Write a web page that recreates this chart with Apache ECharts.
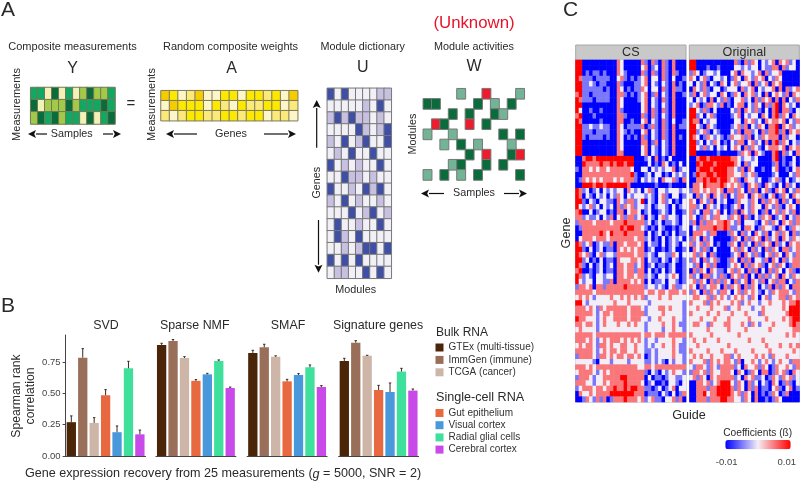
<!DOCTYPE html>
<html><head><meta charset="utf-8">
<style>html,body{margin:0;padding:0;background:#fff}#c{width:800px;height:481px}</style>
<script src="https://cdn.jsdelivr.net/npm/echarts@6/dist/echarts.min.js"></script>
</head><body><div id="c"></div>
<script>
const methods = ['SVD','Sparse NMF','SMAF','Signature genes'];
const bulkTypes = ['GTEx (multi-tissue)','ImmGen (immune)','TCGA (cancer)'];
const singleCellTypes = ['Gut epithelium','Visual cortex','Radial glial cells','Cerebral cortex'];
const svdValues = [0.27,0.785,0.264,0.485,0.19,0.70,0.173];
const svdUpper  = [0.32,0.857,0.306,0.53,0.24,0.756,0.207];
const nmfValues = [0.887,0.918,0.783,0.60,0.652,0.758,0.543];
const nmfUpper  = [0.90,0.93,0.793,0.61,0.66,0.767,0.55];
const smafValues = [0.823,0.868,0.793,0.596,0.647,0.708,0.551];
const smafUpper  = [0.844,0.892,0.80,0.612,0.658,0.727,0.562];
const sigValues = [0.759,0.905,0.80,0.527,0.511,0.674,0.522];
const sigUpper  = [0.78,0.921,0.804,0.564,0.583,0.70,0.535];
const yTicks = [0,0.25,0.5,0.75];

const matrixY = ['ggcdcgcldllg','dclllmlgggdg','ldgdlggcdcgd'];
const matrixA = ['3201300220221203','0322202102112201','1012211221220110'];
const matrixU = ['202000011','000001020','121211010','000021012','102012002','010200200','201010020','002110100','200102120','102010010','000201201','020010020','021020000','001012202','202020000','011002020'];
const matrixW = ['....l..r...l','dd....d.l.d.','...d.d..dl..','.rd..r.d....','l..l.....d.d','..l.d.l...l.','.....d.r..dr','...ld..d.d..','l.d.l.d....d'];

const csRows = [
'44000000000032000003103103103000',
'44000000000032000002301203103000',
'44010110100032100003103103103100',
'43111011110023101012302203102001',
'44112101100031000112302102103010',
'44111111010032010113202203103110',
'34110111110033101012301302103001',
'43111011110032000012302103103000',
'44000000000032000002302102103000',
'42001001000031000002303103103000',
'34000100000033100003103102103000',
'43000001000033001002302103102001',
'44112112110032011113013103103011',
'44111011110032101002302103103000',
'44101111010032010103102103103010',
'44000000000032000003301302103000',
'44000000000032000002302102103000',
'44000000000033000002302102103000',
'00344344444444444000120301020000',
'00433334334344344000020103201020',
'10332323323333332002202121223012',
'00333333333333334100120220102121',
'01323232333232333102121203223103',
'00444344344444430000000100010000',
'43120120212122032120231022122212',
'43021021202132021222121023102201',
'44102102211032133124021023120102',
'42123120212031323122120122102012',
'34002012201033023320120012102001',
'33121120213023133123021023122102',
'13333233332333433333120120112102',
'01333333333334344332101021001012',
'00333334324333433333020120102011',
'02333233323333333233120102012120',
'43123012113033233323021102012102',
'44102012011032323233012001012001',
'43231023122133333233121022113202',
'44120102011032223323021102102101',
'43102012012033233123012011012001',
'34001012011033233133020102012001',
'43121022122033233233121022123201',
'42122022113033332323020112022101',
'13323033133333433333122121023112',
'33333233333333333333233233233323',
'23232122223223232323122232232222',
'44212222222322232222212222222221',
'33323213233333323332122233232221',
'33333212332333323333122223222221',
'43322212322333323332212232223221',
'33233212322232232322122223223211',
'23222212222222222222122221223221',
'33333233333333333332332333233333',
'33323212323332323232122122223221',
'23233213323223322322121223223211',
'33333212323323322322112122223211',
'13333213323233233232012122223221',
'22222102221222212222112121021221',
'33323233333333333322332333333333',
'23333212323333333333102102123221',
'13332122333334433333020110122112',
'33322122323333433332012001022102',
'12333233233433434433110120123022',
'03223233334444444333011102102013',
'00132131301333433323123110223130'
];
const originalRows = [
'44000000000003103132021230323120',
'44000100100002212122021133031220',
'13201221200023032212303122300000',
'32023102212013203213230213200000',
'20213021032023122303123032300000',
'03213102201222031230212230303123',
'13023122032013203231203023213032',
'20212030213102231203132303030213',
'12301332130102330213203134032120',
'44213102000021303213102034033102',
'44120231000012302122032034132032',
'43302122000002203231203233230213',
'44210321000012313021320334032312',
'44123102100021303312031334130323',
'43201321210132231302132333031220',
'44120213201021330231203034132021',
'44213120212023203132102333230323',
'44000000100000132303210034031203',
'00344344444433212212000034010020',
'00434443444443203122000013010120',
'00344434444332130320010023001023',
'01433443444332231231000012000213',
'00334344344323103221200123102012',
'03324333343232310323103210203120',
'13323233230331320313023103230213',
'20312303213021332032310230132032',
'32032130212001322132031323031203',
'33120321201012302132203213102320',
'31203312302013032132013023132130',
'32013213322132303102132301230213',
'13031332334321302221023132032313',
'02133334334311203320132210320132',
'03332133000132031203213023132031',
'13203120000013203132303123032132',
'31231320100132031203132303120323',
'03213102000023132031203132033123',
'23132031000012303213102313203213',
'13203123100132031302213032031233',
'21302313000123203132310231320133',
'03132032110231320313020313202310',
'31203312131032313020313123032132',
'23132031313203123032130231330213',
'32031233203132303132021303132033',
'13203132133202313232102132333213',
'23322313232123232132023122331323',
'32223132322232312322122322232334',
'22322232223122322212232222232444',
'32222322322232223222132222223444',
'22232223222322222322223222232344',
'23322132223322232132122232222343',
'22222322222322223222222322222233',
'32222232222222322222222222223232',
'23223222322222222322232222222222',
'22322222222322222222223222322323',
'32222322232223222232222322222232',
'23232232223312322223232132223222',
'32223132323321302232123212322133',
'21332132133331203223132013223213',
'13323132233320320132033013231032',
'23132032333331203231120132132312',
'00332312344421320312021032013102',
'00333133444431320313011023102301',
'00334233444432313203010132013000',
'00333133344332213203001013200000'
];

const barColors = ['#4a2508','#9a6f5a','#cdb5a8','#e8683f','#4a98dc','#3fe09c','#c84ae8'];
const dimText = '#2a2a2a', ff = '"Liberation Sans",Arial,sans-serif';
const typeNames = bulkTypes.concat(singleCellTypes);
const cols = [...Array(7).keys()];

const grids=[], xAxes=[], yAxes=[], series=[];
function range(n){return [...Array(n).keys()].map(String);}
function addMatrix(left,top,width,height,nc,nr,data,border,opts){
  const i=grids.length;
  grids.push({left,top,width,height,show:!!(opts&&opts.frame),borderColor:'#aaa',borderWidth:1,backgroundColor:'transparent'});
  xAxes.push({type:'category',gridIndex:i,data:range(nc),show:false});
  yAxes.push({type:'category',gridIndex:i,data:range(nr),inverse:true,show:false});
  series.push(Object.assign({type:'heatmap',xAxisIndex:i,yAxisIndex:i,data,progressive:0,silent:true,
    itemStyle:border?{borderColor:border,borderWidth:1}:{borderWidth:0}},opts&&opts.series));
}
function heatData(rows){const out=[];rows.forEach((r,y)=>[...r].forEach((ch,x)=>out.push([x,y,(+ch-2)*0.005])));return out;}
function catData(rows,colors){const out=[];rows.forEach((r,y)=>[...r].forEach((ch,x)=>{if(colors[ch])out.push({value:[x,y,1],itemStyle:{color:colors[ch]}});}));return out;}

addMatrix(575.5,60,110.5,342,32,64,heatData(csRows),null,{frame:true});
addMatrix(689.5,60,110,342,32,64,heatData(originalRows),null,{frame:true});
addMatrix(30.7,87.5,84.3,36.5,12,3,catData(matrixY,{g:'#12a763',m:'#0a6b3b',d:'#0a6b3b',l:'#a3c94a',c:'#f3f0b8'}),'#6f7a55');
addMatrix(161,90.7,136.7,30,16,3,catData(matrixA,{0:'#fdf6c8',1:'#fbe97a',2:'#fde800',3:'#f5cc00'}),'#7d7a5c');
addMatrix(327.3,88.3,64,190,9,16,catData(matrixU,{0:'#f1f0f6',1:'#c8c0e0',2:'#3f4fa6'}),'#777');
addMatrix(423.3,88.7,101,91.3,12,9,catData(matrixW,{d:'#0a6b3b',l:'#73b497',r:'#ec1c2c'}),'#777');

const panelLeft=[65.6,155.9,247.1,338.6];
const vals=[svdValues,nmfValues,smafValues,sigValues], ups=[svdUpper,nmfUpper,smafUpper,sigUpper];
panelLeft.forEach((left,p)=>{
  const i=grids.length;
  grids.push({left,top:335,width:80,height:121});
  xAxes.push({type:'category',gridIndex:i,data:typeNames,axisLabel:{show:false},axisTick:{show:false},
    axisLine:{lineStyle:{color:'#444',width:1}}});
  yAxes.push({type:'value',gridIndex:i,min:0,max:0.966,show:p===0,splitLine:{show:false},
    axisLine:{show:true,lineStyle:{color:'#444',width:1}},
    axisTick:{show:true,length:3,lineStyle:{color:'#444'},customValues:yTicks},
    axisLabel:{customValues:yTicks,formatter:v=>v.toFixed(2),fontSize:9.5,color:'#444',margin:5,fontFamily:ff}});
  typeNames.forEach((n,k)=>{
    series.push({type:'bar',name:n,xAxisIndex:i,yAxisIndex:i,barWidth:9.3,barGap:'-100%',silent:true,
      itemStyle:{color:barColors[k]},data:[[k,vals[p][k]]]});
  });
  series.push({type:'custom',xAxisIndex:i,yAxisIndex:i,silent:true,z:3,
    data:cols.map(k=>[k,vals[p][k],ups[p][k]]),
    renderItem:(params,api)=>{
      const a=api.coord([api.value(0),api.value(1)]), b=api.coord([api.value(0),api.value(2)]);
      const st={stroke:'#3a2a20',lineWidth:1,fill:null};
      return {type:'group',children:[
        {type:'line',shape:{x1:a[0],y1:a[1],x2:b[0],y2:b[1]},style:st},
        {type:'line',shape:{x1:a[0]-1.2,y1:b[1],x2:a[0]+1.2,y2:b[1]},style:st}]};
    }});
});

const g=[];
function T(text,x,y,size,o){g.push(Object.assign({type:'text',x,y,silent:true,
  style:Object.assign({text,fontSize:size,fontFamily:ff,fill:dimText,textAlign:'center',textVerticalAlign:'middle'},o&&o.style)},o&&o.el));}
function V(text,x,y,size){T(text,x,y,size,{el:{rotation:Math.PI/2}});}
function arrow(x1,y1,x2,y2,h){
  const L=Math.hypot(x2-x1,y2-y1),ux=(x2-x1)/L,uy=(y2-y1)/L,nx=-uy,ny=ux;h=h||8;
  const bx=x2-ux*h,by=y2-uy*h;
  g.push({type:'line',silent:true,shape:{x1,y1,x2:bx,y2:by},style:{stroke:'#111',lineWidth:1.2}});
  g.push({type:'polygon',silent:true,shape:{points:[[x2,y2],[bx+nx*4,by+ny*4],[bx+ux*1.8,by+uy*1.8],[bx-nx*4,by-ny*4]]},style:{fill:'#111'}});
}
T('A',8,10,21); T('B',8,306,21); T('C',570.5,10,21);
T('Composite measurements',72.5,46.7,11); T('Random composite weights',230.5,46.7,11);
T('Module dictionary',362.7,46.7,10.8); T('Module activities',474,46.7,10.8);
T('(Unknown)',474,23.3,16.8,{style:{fill:'#e8132b'}});
T('Y',72.7,68.7,16); T('A',231.7,68.7,16); T('U',362.7,68,16); T('W',474,66.7,16);
T('=',131,104,15);
V('Measurements',17.3,104.5,11); V('Measurements',151.7,104.5,11);
T('Samples',71.7,133.7,10.8); T('Genes',231,133.7,10.8); T('Samples',474,193,10.8); T('Modules',355.7,289.7,10.8);
V('Genes',317.3,182.7,10.8); V('Modules',413,134,10.8);
arrow(47,134,28,134); arrow(103,134,121,134); arrow(197,134,166,134); arrow(264,134,296,134);
arrow(444,193.5,421,193.5); arrow(504,193.5,527,193.5);
arrow(316.7,147.7,316.7,100); arrow(318.5,220,318.5,272.7);
methods.forEach((m,i)=>T(m,[106,194.7,288,378][i],325.7,12.4));
V('Spearman rank',17,396,12.2); V('correlation',30.7,396,12.2);
g.push({type:'text',silent:true,x:223,y:474,style:{
  rich:{a:{fontSize:12.6,fontFamily:ff,fill:dimText},i:{fontSize:12.6,fontFamily:ff,fontStyle:'italic',fill:dimText}},
  text:'{a|Gene expression recovery from 25 measurements (}{i|g}{a| = 5000, SNR = 2)}',textAlign:'center',textVerticalAlign:'middle'}});
T('Bulk RNA',436,332.7,12,{style:{textAlign:'left'}});
T('Single-cell RNA',436,397.7,12.6,{style:{textAlign:'left'}});
[[575.7,110.3,'CS'],[689.3,110,'Original']].forEach(([x,w,t])=>{
  g.push({type:'rect',silent:true,shape:{x,y:45,width:w,height:15},style:{fill:'#c9c9c9',stroke:'#a8a8a8',lineWidth:1}});
  T(t,x+w/2,52.5,12.6);
});
V('Gene',567,233,12.6);
T('Guide',689,416,12.6);
T('Coefficients (ß)',757.7,432.7,10.2);
T('-0.01',726.7,462,9.5,{style:{fill:'#444'}}); T('0.01',786.7,462,9.5,{style:{fill:'#444'}});

const chart=echarts.init(document.getElementById('c'),null,{renderer:'canvas'});
chart.setOption({
  animation:false,backgroundColor:'#fff',
  grid:grids,xAxis:xAxes,yAxis:yAxes,series,graphic:g,
  legend:[
    {data:bulkTypes,left:435.5,top:342.5,orient:'vertical',itemWidth:8,itemHeight:8,itemGap:2.4,selectedMode:false,icon:'rect',
     textStyle:{fontSize:10,color:'#333',fontFamily:ff},padding:0,itemStyle:{borderWidth:0}},
    {data:singleCellTypes,left:435.5,top:408,orient:'vertical',itemWidth:8,itemHeight:8,itemGap:2.2,selectedMode:false,icon:'rect',
     textStyle:{fontSize:10,color:'#333',fontFamily:ff},padding:0,itemStyle:{borderWidth:0}}
  ],
  visualMap:{type:'continuous',seriesIndex:[0,1],min:-0.01,max:0.01,orient:'horizontal',left:725.3,top:440,
    itemWidth:9.3,itemHeight:65.4,calculable:false,showLabel:false,text:null,padding:0,hoverLink:false,
    inRange:{color:['#0000ff','#f3eef6','#ff0000']}}
});
</script></body></html>
